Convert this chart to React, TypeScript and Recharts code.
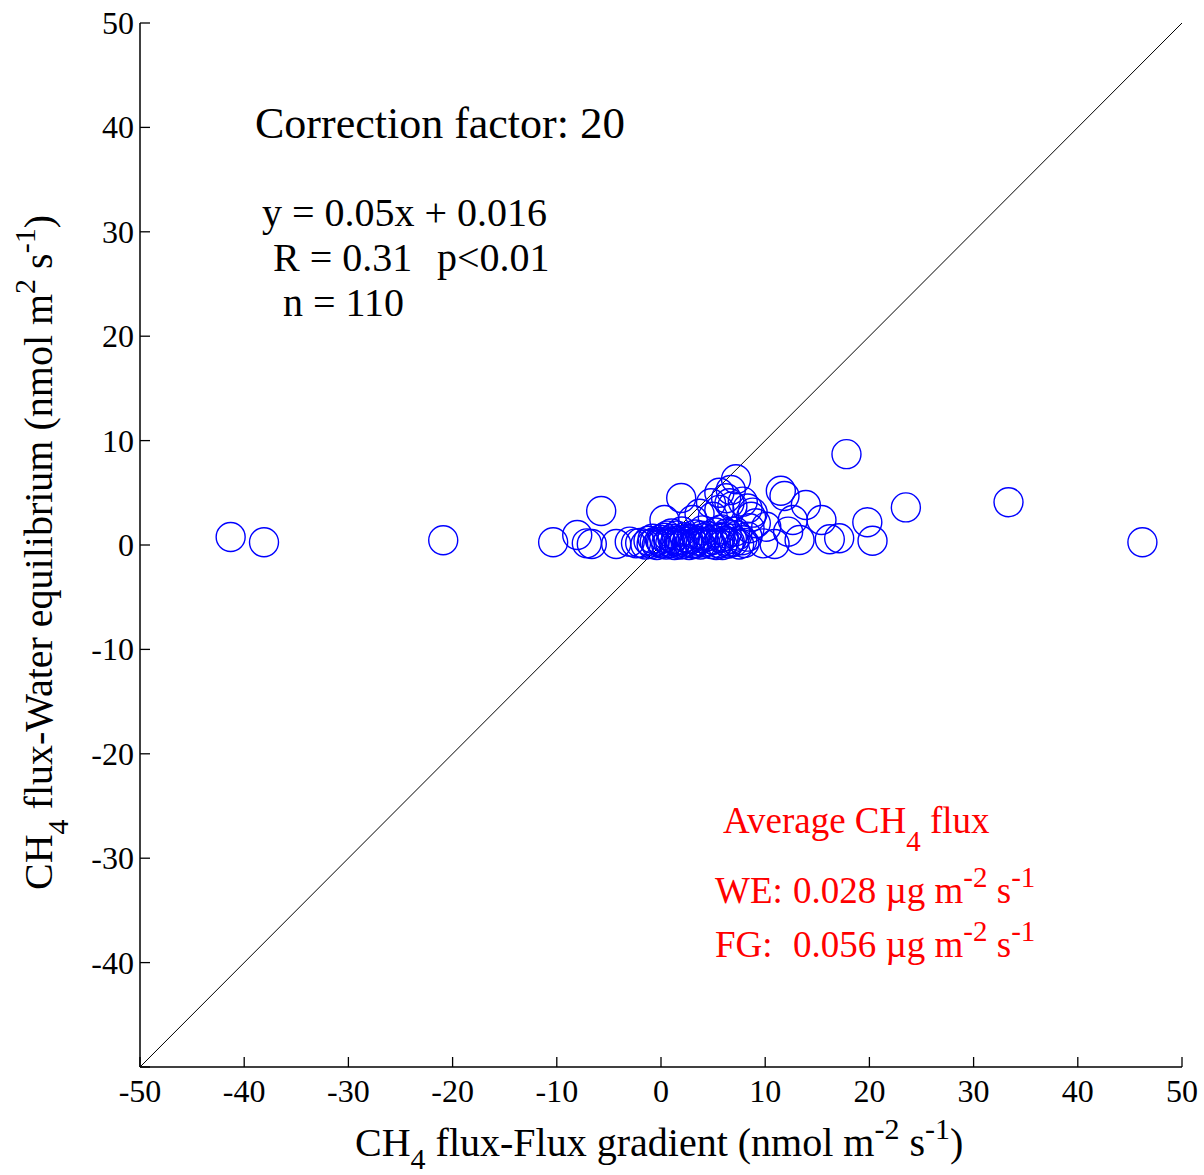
import React from 'react';
import { ScatterChart, Scatter, XAxis, YAxis, ReferenceLine } from 'recharts';

// CH4 flux, flux gradient method (x) vs water equilibrium method (y), nmol m-2 s-1
const fgFlux = [
  -41.3, -38.1, -20.9, -10.35, -8.04, -7.12, -6.64, -5.74, -4.3, -3.0,
  -2.4, 0.33, 1.94, 7.2, 6.7, 11.5, 11.85, 17.8, 13.9, 15.4,
  12.65, 12.2, 13.3, 16.2, 17.1, 19.8, 20.3, 23.5, 33.35, 46.2,
  10.9, 9.8, 9.1, 8.65, 8.3, 7.85, 6.57, 6.25, 5.6, 4.97,
  3.7, 3.05, 4.8, 5.6, 6.85, 8.8, 10.1, 8.5, 4.0, 1.0,
  -2.0, -1.5, -1.2, -0.9, -0.6, -0.4, -0.1, 0.1, 0.3, 0.5,
  0.7, 0.9, 1.1, 1.3, 1.5, 1.7, 1.9, 2.1, 2.3, 2.5,
  2.7, 2.9, 3.1, 3.3, 3.5, 3.8, 4.0, 4.2, 4.5, 4.8,
  5.0, 5.2, 5.5, 5.7, 5.9, 6.1, 6.3, 6.5, 6.8, 7.0,
  7.3, 7.5, 7.8, 8.0, 8.3, 0.0, 0.6, 1.4, 2.0, 2.6,
  3.2, 3.9, 4.6, 5.3, 6.0, 6.6, 7.1, -0.8, 1.8, 5.8,
];
const weFlux = [
  0.77, 0.26, 0.45, 0.26, 0.96, 0.16, 0.1, 3.26, 0.1, 0.32,
  0.16, 2.4, 4.5, 6.3, 5.27, 5.2, 4.7, 8.7, 3.83, 2.4,
  2.4, 1.28, 0.48, 0.55, 0.64, 2.18, 0.41, 3.6, 4.1, 0.26,
  0.1, 0.16, 2.08, 2.7, 3.5, 4.15, 4.0, 4.48, 3.36, 2.7,
  3.0, 2.4, 4.0, 5.0, 3.7, 3.1, 1.75, 1.6, 1.4, 1.1,
  0.2, 0.05, 0.4, 0.1, 0.3, 0.0, 0.5, 0.15, 0.7, 0.05,
  0.35, 0.2, 0.6, 0.0, 0.9, 0.25, 0.45, 0.1, 0.75, 0.3,
  0.0, 0.55, 0.2, 1.0, 0.4, 0.05, 0.65, 0.25, 0.85, 0.1,
  0.5, 1.2, 0.2, 0.7, 0.0, 0.4, 1.1, 0.15, 0.6, 0.3,
  0.9, 0.05, 0.45, 0.2, 0.8, 0.3, 0.9, 0.4, 1.3, 0.6,
  0.1, 0.9, 0.35, 0.0, 0.8, 0.3, 1.3, 0.6, 0.05, 1.5,
];
const xTicks = [-50, -40, -30, -20, -10, 0, 10, 20, 30, 40, 50];
const yTicks = [-50, -40, -30, -20, -10, 0, 10, 20, 30, 40, 50];
const identity = [{ x: -50, y: -50 }, { x: 50, y: 50 }];

const data = fgFlux.map((x, i) => ({ x, y: weFlux[i] }));

const FONT = '"Liberation Serif", "Times New Roman", serif';
const TICK_LEN = 10;

const BottomTick = (props: any) => {
  const { x, y, payload } = props;
  return (
    <g>
      <line x1={x} x2={x} y1={y} y2={y - TICK_LEN} stroke="#000" strokeWidth={1.3} />
      <text x={x} y={y + 35} textAnchor="middle" fontFamily={FONT} fontSize={32} fill="#000">
        {payload.value}
      </text>
    </g>
  );
};

const LeftTick = (props: any) => {
  const { x, y, payload } = props;
  return (
    <g>
      <line x1={x} x2={x + TICK_LEN} y1={y} y2={y} stroke="#000" strokeWidth={1.3} />
      {payload.value !== -50 && (
        <text x={x - 6} y={y + 11} textAnchor="end" fontFamily={FONT} fontSize={32} fill="#000">
          {payload.value}
        </text>
      )}
    </g>
  );
};

const TopTick = (props: any) => {
  const { x, y } = props;
  return <line x1={x} x2={x} y1={y} y2={y + TICK_LEN} stroke="#000" strokeWidth={1.3} />;
};

const RightTick = (props: any) => {
  const { x, y } = props;
  return <line x1={x} x2={x - TICK_LEN} y1={y} y2={y} stroke="#000" strokeWidth={1.3} />;
};

const OpenCircle = (props: any) => (
  <circle cx={props.cx} cy={props.cy} r={14.5} fill="none" stroke="#0000ff" strokeWidth={1.4} />
);

const App: React.FC = () => {
  return (
    <div style={{ position: 'absolute', left: 0, top: 0, width: 1204, height: 1175, background: '#fff' }}>
      <ScatterChart width={1204} height={1175} margin={{ top: 23, right: 22, bottom: 0, left: 0 }}>
        <XAxis
          xAxisId="b"
          dataKey="x"
          type="number"
          domain={[-50, 50]}
          ticks={xTicks}
          allowDataOverflow
          height={108}
          stroke="#000"
          strokeWidth={1.5}
          tickLine={false}
          tickSize={0}
          tickMargin={0}
          interval={0}
          tick={<BottomTick />}
        />
        <XAxis
          xAxisId="t"
          orientation="top"
          type="number"
          domain={[-50, 50]}
          ticks={xTicks}
          allowDataOverflow
          height={0}
          stroke="#000"
          strokeWidth={1.5}
          tickLine={false}
          tickSize={0}
          tickMargin={0}
          interval={0}
          tick={<TopTick />}
        />
        <YAxis
          yAxisId="l"
          dataKey="y"
          type="number"
          domain={[-50, 50]}
          ticks={yTicks}
          allowDataOverflow
          width={140}
          stroke="#000"
          strokeWidth={1.5}
          tickLine={false}
          tickSize={0}
          tickMargin={0}
          interval={0}
          tick={<LeftTick />}
        />
        <YAxis
          yAxisId="r"
          orientation="right"
          type="number"
          domain={[-50, 50]}
          ticks={yTicks}
          allowDataOverflow
          width={0}
          stroke="#000"
          strokeWidth={1.5}
          tickLine={false}
          tickSize={0}
          tickMargin={0}
          interval={0}
          tick={<RightTick />}
        />
        <ReferenceLine
          xAxisId="b"
          yAxisId="l"
          segment={identity}
          stroke="#000"
          strokeWidth={1}
          ifOverflow="visible"
        />
        <Scatter
          xAxisId="b"
          yAxisId="l"
          data={data}
          shape={<OpenCircle />}
          isAnimationActive={false}
        />
      </ScatterChart>
      <svg
        width={1204}
        height={1175}
        style={{ position: 'absolute', left: 0, top: 0, pointerEvents: 'none' }}
        fontFamily={FONT}
      >
        <text x={255} y={138} fontSize={44} fill="#000">
          Correction factor: <tspan fontSize={45}>20</tspan>
        </text>
        <text x={262} y={226} fontSize={40} fill="#000">y = 0.05x + 0.016</text>
        <text y={271} fontSize={40} fill="#000">
          <tspan x={273}>R = 0.31</tspan>
          <tspan x={437}>p&lt;0.01</tspan>
        </text>
        <text x={283} y={316} fontSize={40} fill="#000">n = 110</text>

        <g fill="#ff0000" fontSize={37}>
          <text x={723} y={833}>
            Average CH<tspan fontSize={29} dy={18}>4</tspan>
            <tspan dy={-18}> flux</tspan>
          </text>
          <text x={715} y={903}>
            WE: <tspan x={793}>0.028 µg m</tspan>
            <tspan fontSize={29} dy={-16}>-2</tspan>
            <tspan dy={16}> s</tspan>
            <tspan fontSize={29} dy={-16}>-1</tspan>
          </text>
          <text x={715} y={957}>
            FG: <tspan x={793}>0.056 µg m</tspan>
            <tspan fontSize={29} dy={-16}>-2</tspan>
            <tspan dy={16}> s</tspan>
            <tspan fontSize={29} dy={-16}>-1</tspan>
          </text>
        </g>

        <text x={355} y={1156} fontSize={40} fill="#000">
          CH<tspan fontSize={30} dy={13}>4</tspan>
          <tspan dy={-13}> flux-Flux gradient (nmol m</tspan>
          <tspan fontSize={30} dy={-17}>-2</tspan>
          <tspan dy={17}> s</tspan>
          <tspan fontSize={30} dy={-17}>-1</tspan>
          <tspan dy={17}>)</tspan>
        </text>
        <text transform="translate(52, 890) rotate(-90)" fontSize={40} fill="#000">
          CH<tspan fontSize={30} dy={16}>4</tspan>
          <tspan dy={-16}> flux-Water equilibrium (nmol m</tspan>
          <tspan fontSize={30} dy={-17}>2</tspan>
          <tspan dy={17}> s</tspan>
          <tspan fontSize={30} dy={-17}>-1</tspan>
          <tspan dy={17}>)</tspan>
        </text>
      </svg>
    </div>
  );
};

export default App;
